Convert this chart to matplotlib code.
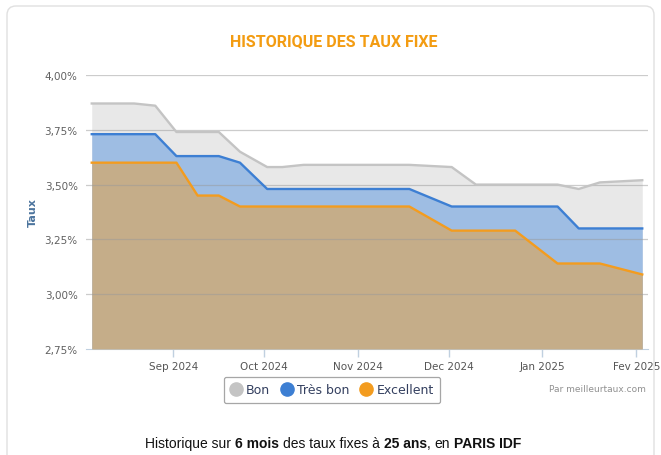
import matplotlib
matplotlib.use('Agg')
import matplotlib.pyplot as plt
import matplotlib.dates as mdates
from matplotlib.patches import FancyBboxPatch
from matplotlib.lines import Line2D
from matplotlib.transforms import IdentityTransform
import datetime as dt

# quotation dates (vertices)
dates = ['2024-08-05', '2024-08-19', '2024-08-26', '2024-09-02', '2024-09-09',
         '2024-09-16', '2024-09-23', '2024-10-02', '2024-10-07', '2024-10-14',
         '2024-11-18', '2024-12-02', '2024-12-10', '2024-12-23', '2025-01-06',
         '2025-01-13', '2025-01-20', '2025-02-03']

bon = [3.87, 3.87, 3.86, 3.74, 3.74, 3.74, 3.65, 3.58, 3.58, 3.59,
       3.59, 3.58, 3.50, 3.50, 3.50, 3.48, 3.51, 3.52]
tres_bon = [3.73, 3.73, 3.73, 3.63, 3.63, 3.63, 3.60, 3.48, 3.48, 3.48,
            3.48, 3.40, 3.40, 3.40, 3.40, 3.30, 3.30, 3.30]
excellent = [3.60, 3.60, 3.60, 3.60, 3.45, 3.45, 3.40, 3.40, 3.40, 3.40,
             3.40, 3.29, 3.29, 3.29, 3.14, 3.14, 3.14, 3.09]

series_names = ['Bon', 'Très bon', 'Excellent']
line_colors = ['#c4c4c4', '#3d7fd3', '#f39c1f']
fill_colors = ['#e8e8e8', '#9ebde3', '#c5ad89']

month_ticks = ['2024-09-01', '2024-10-01', '2024-11-01', '2024-12-01', '2025-01-01', '2025-02-01']
month_labels = ['Sep 2024', 'Oct 2024', 'Nov 2024', 'Dec 2024', 'Jan 2025', 'Fev 2025']
y_ticks = [2.75, 3.00, 3.25, 3.50, 3.75, 4.00]

x = [dt.datetime.strptime(d, '%Y-%m-%d') for d in dates]

fig = plt.figure(figsize=(6.61, 4.56), dpi=100)
ax = fig.add_axes([86 / 661, 1 - 350 / 456, 562 / 661, 274 / 456])

# card border
card = FancyBboxPatch((7, -30), 647, 479, boxstyle='round,pad=0,rounding_size=9',
                      transform=IdentityTransform(), facecolor='none',
                      edgecolor='#e0e0e0', linewidth=1)
fig.patches.append(card)

base = 2.75
for vals, fc, z in zip([bon, tres_bon, excellent], fill_colors, [1, 2, 3]):
    ax.fill_between(x, vals, base, color=fc, linewidth=0, zorder=z)

for yt in y_ticks[1:]:
    ax.axhline(yt, color='#9a9a9a', alpha=0.5, linewidth=0.9, zorder=4)

for vals, lc, z in zip([bon, tres_bon, excellent], line_colors, [5, 6, 7]):
    ax.plot(x, vals, color=lc, linewidth=1.7, zorder=z, solid_joinstyle='round')

pad = dt.timedelta(days=1.9)
ax.set_xlim(x[0] - pad, x[-1] + pad)
ax.set_ylim(2.75, 4.0)

ax.set_yticks(y_ticks)
ax.set_yticklabels([f'{v:.2f}%'.replace('.', ',') for v in y_ticks])
ax.set_xticks([mdates.date2num(dt.datetime.strptime(d, '%Y-%m-%d')) for d in month_ticks])
ax.set_xticklabels(month_labels)

for s in ['top', 'right', 'left']:
    ax.spines[s].set_visible(False)
ax.spines['bottom'].set_color('#c0d0e0')
ax.tick_params(axis='x', colors='#c0d0e0', labelcolor='#555555', labelsize=7.5,
               length=6, width=1, pad=3)
ax.tick_params(axis='y', length=0, labelcolor='#606060', labelsize=7.5, pad=6)
ax.set_ylabel('Taux', color='#4d759e', fontweight='bold', fontsize=8, labelpad=5)

fig.text(334 / 661, 1 - 42 / 456, 'HISTORIQUE DES TAUX FIXE', ha='center', va='center',
         color='#f39c12', fontsize=11.5, fontweight='bold', family=['Roboto', 'DejaVu Sans'])

handles = [Line2D([], [], linestyle='none', marker='o', markersize=9.5,
                  markerfacecolor=c, markeredgecolor=c) for c in line_colors]
leg = fig.legend(handles, series_names, loc='center', bbox_to_anchor=(332 / 661, 1 - 391 / 456),
                 ncol=3, frameon=True, fontsize=9, handletextpad=0.35, columnspacing=0.9,
                 borderpad=0.55, handlelength=0.9, fancybox=True)
leg.get_frame().set_edgecolor('#909090')
leg.get_frame().set_linewidth(0.9)
for t in leg.get_texts():
    t.set_color('#333f5f')

fig.text(646 / 661, 1 - 389 / 456, 'Par meilleurtaux.com', ha='right', va='center',
         color='#909090', fontsize=6.5)

# caption with mixed bold pieces
pieces = [('Historique sur', 'normal'), ('6 mois', 'bold'), ('des taux fixes à', 'normal'),
          ('25 ans', 'bold'), (',', 'normal'), ('en', 'normal'), ('PARIS IDF', 'bold')]
gaps = [1, 1, 1, 0, 1, 1, 0]
cap_kw = dict(fontsize=10, family='Liberation Sans', color='#111111', va='center')
renderer = fig.canvas.get_renderer()
probe1 = fig.text(0, 0, 'x x', **cap_kw)
probe2 = fig.text(0, 0, 'xx', **cap_kw)
space_w = probe1.get_window_extent(renderer).width - probe2.get_window_extent(renderer).width
probe1.remove()
probe2.remove()
cap_texts = []
widths = []
for s, w in pieces:
    t = fig.text(0, 1 - 444 / 456, s, fontweight=w, **cap_kw)
    cap_texts.append(t)
    widths.append(t.get_window_extent(renderer).width)
total = sum(widths) + space_w * sum(gaps[:-1])
xpos = 333 - total / 2
for t, wdt, g in zip(cap_texts, widths, gaps):
    t.set_x(xpos / 661)
    xpos += wdt + g * space_w

fig.savefig('out.png', dpi=100)
